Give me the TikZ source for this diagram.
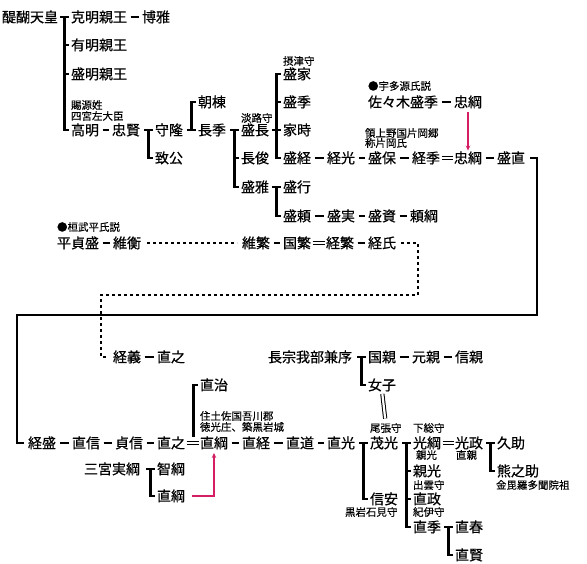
\documentclass[tikz,border=0pt]{standalone}
\usepackage{fontspec}
\setmainfont{Noto Sans CJK JP}
\newfontfamily\namefont[FakeBold=0.6]{Noto Sans CJK JP}
\newfontfamily\notefont[FakeBold=0.3]{Noto Sans CJK JP}
\usetikzlibrary{arrows.meta,calc}
\definecolor{rc}{RGB}{214,30,100}
\begin{document}
\begin{tikzpicture}[x=1pt,y=-1pt,
  nm/.style={font=\namefont\fontsize{14pt}{16pt}\selectfont, inner sep=0pt, outer sep=0pt, anchor=west, text height=11.2pt, text depth=0.7pt},
  sm/.style={font=\notefont\fontsize{10.5pt}{12pt}\selectfont, inner sep=0pt, outer sep=0pt, anchor=west, text height=8.4pt, text depth=0.5pt},
  ln/.style={line width=2.4pt, line join=miter},
  dsh/.style={ln, shorten <=3.5pt, shorten >=3.5pt},
  eql/.style={line width=1.3pt, double, double distance=2.2pt, shorten <=1.5pt, shorten >=1.5pt},
  vdbl/.style={line width=1pt, double, double distance=2.2pt, shorten <=3pt, shorten >=5pt},
  dotl/.style={line width=2.2pt, dash pattern=on 2.8pt off 3.2pt},
  rarr/.style={draw=rc, line width=1.2pt, -{Stealth[length=5pt,width=4.5pt]}}
]
\fill[white] (0,0) rectangle (587,563);
\useasboundingbox (0,0) rectangle (587,563);
% ---------- upper part ----------
\node[nm] (a0) at (2,17) {醍醐天皇};
\node[nm] (a1) at (71,17) {克明親王};
\node[nm] (a1b) at (142,17) {博雅};
\node[nm] (a2) at (71,45) {有明親王};
\node[nm] (a3) at (71,74) {盛明親王};
\node[sm] (lb1) at (71,105) {賜源姓};
\node[sm] (lb2) at (71,116) {四宮左大臣};
\node[nm] (a4) at (71,130) {高明};
\node[nm] (b1) at (112,130) {忠賢};
\node[nm] (b2) at (155,130) {守隆};
\node[nm] (b3) at (155,158) {致公};
\node[nm] (c1) at (198,102) {朝棟};
\node[nm] (c2) at (198,130) {長季};
\node[sm] (lb3) at (241,118) {淡路守};
\node[nm] (d1) at (241,130) {盛長};
\node[nm] (d2) at (241,158) {長俊};
\node[nm] (d3) at (241,187) {盛雅};
\node[sm] (lb4) at (283,61) {摂津守};
\node[nm] (e1) at (283,74) {盛家};
\node[nm] (e2) at (283,102) {盛季};
\node[nm] (e3) at (283,130) {家時};
\node[nm] (e4) at (283,158) {盛経};
\node[nm] (e5) at (283,187) {盛行};
\node[nm] (e6) at (283,216) {盛頼};
\node[nm] (f1) at (327,158) {経光};
\node[nm] (f2) at (368,158) {盛保};
\node[nm] (f3) at (412,158) {経季};
\node[nm] (f4) at (454,158) {忠綱};
\node[nm] (f5) at (497,158) {盛直};
\node[sm] (lb5) at (368,86) {●宇多源氏説};
\node[nm] (g0) at (368,102) {佐々木盛季};
\node[nm] (g1) at (454,102) {忠綱};
\node[sm] (lb6) at (365,133) {領上野国片岡郷};
\node[sm] (lb7) at (365,143) {称片岡氏};
\node[nm] (h1) at (327,216) {盛実};
\node[nm] (h2) at (368,216) {盛資};
\node[nm] (h3) at (410,216) {頼綱};
\node[sm] (lb8) at (57,227) {●桓武平氏説};
\node[nm] (i1) at (57,243) {平貞盛};
\node[nm] (i2) at (113,243) {維衡};
\node[nm] (j1) at (242,243) {維繁};
\node[nm] (j2) at (283,243) {国繁};
\node[nm] (j3) at (326,243) {経繁};
\node[nm] (j4) at (368,243) {経氏};
% ---------- lower part ----------
\node[nm] (k1) at (113,357) {経義};
\node[nm] (k2) at (157,357) {直之};
\node[nm] (l0) at (268,357) {長宗我部兼序};
\node[nm] (l1) at (368,357) {国親};
\node[nm] (l2) at (412,357) {元親};
\node[nm] (l3) at (455,357) {信親};
\node[nm] (l4) at (368,385) {女子};
\node[nm] (m0) at (200,385) {直治};
\node[sm] (lb9) at (200,416) {住土佐国吾川郡};
\node[sm] (lb10) at (200,427) {徳光庄、築黒岩城};
\node[nm] (n1) at (28,443) {経盛};
\node[nm] (n2) at (72,443) {直信};
\node[nm] (n3) at (115,443) {貞信};
\node[nm] (n4) at (157,443) {直之};
\node[nm] (n5) at (200,443) {直綱};
\node[nm] (n6) at (242,443) {直経};
\node[nm] (n7) at (286,443) {直道};
\node[nm] (n8) at (327,443) {直光};
\node[sm] (lb11) at (370,428) {尾張守};
\node[nm] (o1) at (370,443) {茂光};
\node[nm] (o2) at (370,499) {信安};
\node[sm] (lb12) at (345,512) {黒岩石見守};
\node[sm] (lb13) at (413,428) {下総守};
\node[nm] (p1) at (413,443) {光綱};
\node[sm] (lb14) at (416,455) {親光};
\node[nm] (p2) at (413,471) {親光};
\node[sm] (lb15) at (413,485) {出雲守};
\node[nm] (p3) at (413,499) {直政};
\node[sm] (lb16) at (413,512) {紀伊守};
\node[nm] (p4) at (413,527) {直季};
\node[nm] (q1) at (455,443) {光政};
\node[sm] (lb17) at (456,455) {直親};
\node[nm] (r1) at (497,443) {久助};
\node[nm] (r2) at (497,471) {熊之助};
\node[sm] (lb18) at (496,485) {金毘羅多聞院祖};
\node[nm] (u1) at (455,527) {直春};
\node[nm] (u2) at (455,555) {直賢};
\node[nm] (t0) at (84,469) {三宮実綱};
\node[nm] (t1) at (157,469) {智綱};
\node[nm] (t2) at (157,496) {直綱};
% ---------- dashes ----------
\foreach \p/\q in {a1/a1b,a4/b1,e4/f1,f1/f2,f2/f3,f4/f5,g0/g1,e6/h1,h1/h2,h2/h3,i1/i2,j1/j2,j3/j4,k1/k2,l1/l2,l2/l3,n1/n2,n2/n3,n3/n4,n5/n6,n6/n7,n7/n8}
  \draw[dsh] (\p.east) -- (\q.west);
% ---------- adoptions ----------
\foreach \p/\q in {f3/f4,j2/j3,n4/n5,p1/q1}
  \draw[eql] (\p.east) -- (\q.west);
% ---------- brackets ----------
\foreach \f/\l in {a1/a4,b2/b3,d1/d3,e5/e6,l1/l4,o1/o2,p1/p4,r1/r2,u1/u2,t1/t2}{
  \draw[ln] ([xshift=-11]\f.west) -- ([xshift=-2.5]\f.west);
  \draw[ln] ([xshift=-6.5]\f.west) |- ([xshift=-2.5]\l.west);
}
\foreach \c in {a2,a3,d2,e2,p2,p3}
  \draw[ln] ([xshift=-6.5]\c.west) -- ([xshift=-2.5]\c.west);
% 守隆 -> 朝棟 / 長季
\draw[ln] ([xshift=-11]c2.west) -- ([xshift=-2.5]c2.west);
\draw[ln] ([xshift=-6.5]c2.west) |- ([xshift=-2.5]c1.west);
% 盛長 -> 盛家 ... 盛経
\draw[ln] ([xshift=-2.5]e1.west) -| ([xshift=-6.5]e4.west) -- ([xshift=-2.5]e4.west);
\draw[ln] ([xshift=-11]e3.west) -- ([xshift=-2.5]e3.west);
% 直之 -> 直治
\coordinate (eqtop) at ($(n5.west)+(-6.5,-6)$);
\draw[ln] ([xshift=-2.5]m0.west) -| (eqtop);
% 女子 = 茂光
\draw[vdbl] (l4.south) -- (lb11.north);
% ---------- long connectors ----------
\coordinate (bc1) at (537,315);
\coordinate (bc2) at (17,315);
\draw[ln] ([xshift=5]f5.east) -| (bc1) -- (bc2) |- ([xshift=-4]n1.west);
\draw[dotl] ([xshift=6]i2.east) -- ([xshift=-5]j1.west);
\coordinate (dc1) at (418,295);
\coordinate (dc2) at (101,295);
\draw[dotl] ([xshift=5]j4.east) -| (dc1) -- (dc2) |- ([xshift=-6]k1.west);
% ---------- red arrows ----------
\draw[rarr] ([yshift=-4pt]g1.south) -- ([yshift=1.5pt]f4.north);
\draw[rarr] ([xshift=7]t2.east) -| ([yshift=-4pt]n5.south);
\end{tikzpicture}
\end{document}
